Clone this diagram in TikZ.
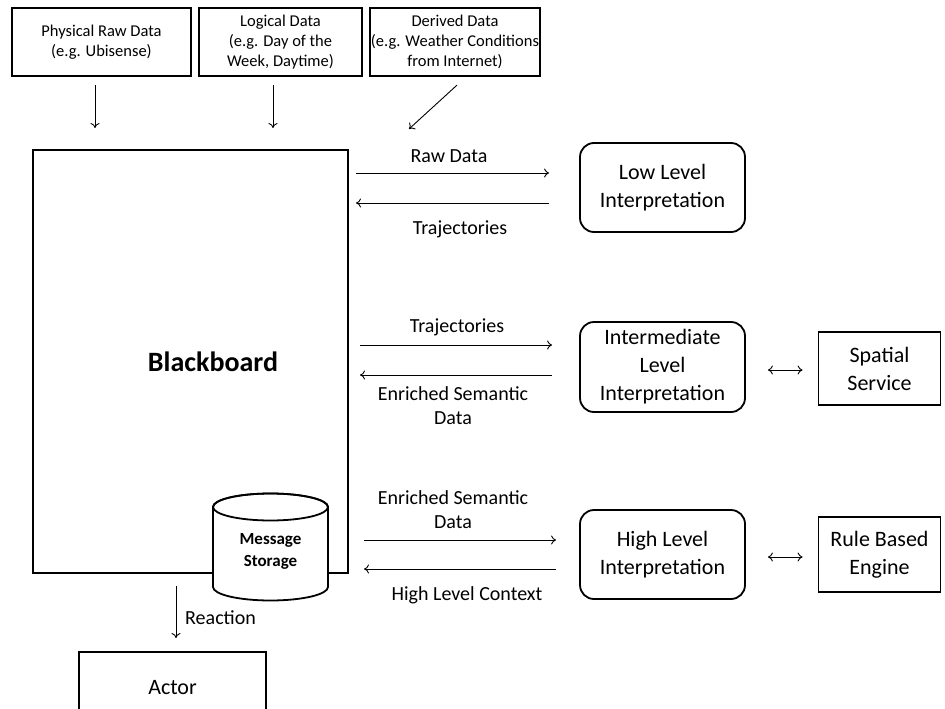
\documentclass[tikz,border=0pt]{standalone}
\usepackage{fontspec}
\setmainfont{Carlito}
\usetikzlibrary{arrows.meta}
\begin{document}
\begin{tikzpicture}[x=1pt,y=-1pt,
  topbox/.style={draw, line width=2.2pt, inner sep=0pt, align=center, font=\fontsize{16.5}{20}\selectfont},
  bigbox/.style={draw, line width=2pt, inner sep=0pt},
  interp/.style={draw, line width=1.8pt, rounded corners=14pt, inner sep=0pt, align=center, minimum width=165pt, minimum height=89pt, font=\fontsize{22}{28}\selectfont},
  svc/.style={draw, line width=1.8pt, inner sep=0pt, align=center, minimum width=122pt, font=\fontsize{22}{28}\selectfont},
  lbl/.style={align=center, inner sep=0pt, font=\fontsize{20}{24}\selectfont},
  arr/.style={-{To[length=5pt,width=9pt]}, line width=0.9pt},
  darr/.style={{To[length=5pt,width=9pt]}-{To[length=5pt,width=9pt]}, line width=0.9pt}
]
\useasboundingbox (0,0) rectangle (945,709);
\fill[white] (0,0) rectangle (945,709);

% top sources
\node[topbox, minimum width=179pt, minimum height=68pt] (phys) at (101.5,42) {Physical Raw Data\\(e.g. Ubisense)};
\node[topbox, minimum width=163pt, minimum height=68pt] (logi) at (280.5,42) {Logical Data\\(e.g. Day of the\\Week, Daytime)};
\node[topbox, minimum width=170pt, minimum height=68pt] (deri) at (455,42) {Derived Data\\(e.g. Weather Conditions\\from Internet)};

% blackboard
\node[bigbox, minimum width=315pt, minimum height=423pt] (bb) at (190.5,361.5) {};
\node[font=\fontsize{28}{32}\selectfont\bfseries, inner sep=0pt] (bblabel) at (213,362) {Blackboard};

% source arrows
\draw[arr] ([xshift=-6.5pt,yshift=-8pt]phys.south) -- ([xshift=-6.5pt]phys.south |- bb.north) [shorten >=21pt];
\draw[arr] ([xshift=-7.5pt,yshift=-8pt]logi.south) -- ([xshift=-7.5pt]logi.south |- bb.north) [shorten >=21pt];
\coordinate (d3) at (409,129);
\draw[arr] ([xshift=2pt,yshift=-8pt]deri.south) -- (d3);

% message storage cylinder
\draw[line width=1.8pt, fill=white] (213,507) -- (213,587)
  arc[start angle=180, end angle=0, x radius=57.5, y radius=13.5] -- (328,507)
  arc[start angle=0, end angle=-180, x radius=57.5, y radius=13.5] -- cycle;
\draw[line width=1.8pt] (270.5,507) ellipse [x radius=57.5, y radius=13.5];
\node[align=center, inner sep=0pt, font=\fontsize{17}{22}\selectfont\bfseries] (storage) at (270.5,551) {Message\\Storage};

% interpretation boxes
\node[interp] (low) at (662.5,187.5) {Low Level\\Interpretation};
\node[interp, minimum height=90pt] (mid) at (662.5,367) {Intermediate\\Level\\Interpretation};
\node[interp] (high) at (662.5,554.5) {High Level\\Interpretation};

\node[svc, minimum height=73pt] (spatial) at (879.5,368.5) {Spatial\\Service};
\node[svc, minimum height=75pt] (rule) at (879.5,554.5) {Rule Based\\Engine};

% low level arrows
\draw[arr] ([xshift=7pt]bb.east |- 0,173) -- ([xshift=-30pt]low.west |- 0,173);
\draw[arr] ([xshift=-30pt]low.west |- 0,203) -- ([xshift=7pt]bb.east |- 0,203);
\node[lbl] (l1) at (449,156) {Raw Data};
\node[lbl] (l2) at (460,229) {Trajectories};

% intermediate arrows
\draw[arr] ([xshift=11pt]bb.east |- 0,345) -- ([xshift=-27pt]mid.west |- 0,345);
\draw[arr] ([xshift=-27pt]mid.west |- 0,375) -- ([xshift=11pt]bb.east |- 0,375);
\node[lbl] (l3) at (457,327) {Trajectories};
\node[lbl] (l4) at (453,406) {Enriched Semantic\\Data};

% high level arrows
\draw[arr] ([xshift=15pt]bb.east |- 0,540) -- ([xshift=-23pt]high.west |- 0,540);
\draw[arr] ([xshift=-23pt]high.west |- 0,569) -- ([xshift=15pt]bb.east |- 0,569);
\node[lbl] (l5) at (453,510) {Enriched Semantic\\Data};
\node[lbl] (l6) at (467,595) {High Level Context};

% double arrows
\draw[darr] ([xshift=22pt]mid.east |- 0,370) -- ([xshift=-15pt]spatial.west |- 0,370);
\draw[darr] ([xshift=22pt]high.east |- 0,557) -- ([xshift=-15pt]rule.west |- 0,557);

% actor
\draw[line width=1.8pt] (79,709) -- (79,652) -- (266,652) -- (266,709);
\node[font=\fontsize{22}{26}\selectfont, inner sep=0pt] (actor) at (172.5,688) {Actor};
\draw[arr] ([xshift=-14.5pt,yshift=-12pt]bb.south) -- ([xshift=-14.5pt,yshift=-64pt]bb.south);
\node[lbl, anchor=west] (reaction) at (185,618) {Reaction};
\end{tikzpicture}
\end{document}
